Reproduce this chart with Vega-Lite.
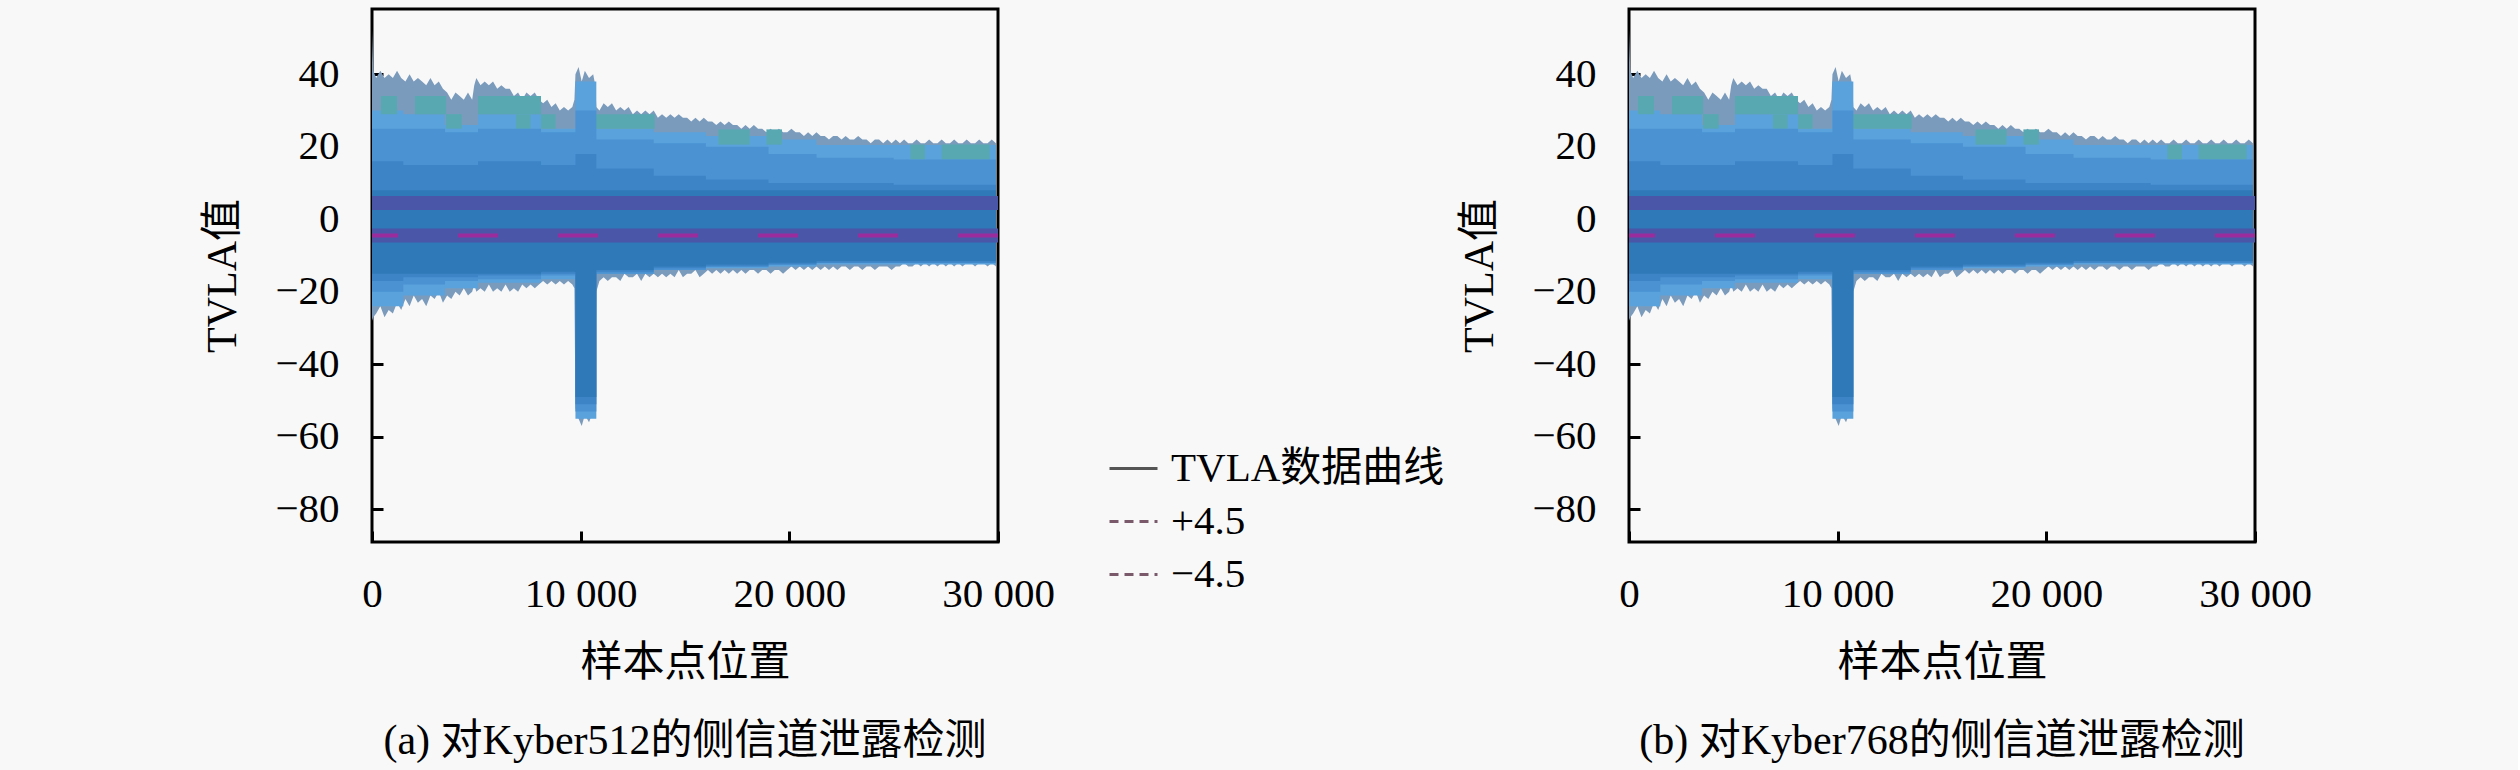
{
  "$schema": "https://vega.github.io/schema/vega-lite/v6.json",
  "background": "#f8f8f8",
  "padding": {"left": 200, "top": 7, "right": 205, "bottom": 10},
  "bounds": "flush",
  "spacing": 631,
  "config": {
    "font": "Liberation Serif, Noto Sans CJK SC",
    "view": {"stroke": "black", "strokeWidth": 3},
    "axis": {
      "domain": false, "grid": false, "ticks": true,
      "tickSize": -11, "tickWidth": 3, "tickColor": "black",
      "labelFont": "Liberation Serif", "labelFontSize": 41, "labelColor": "black",
      "labelFlush": false, "labelOverlap": false, "labelBound": false,
      "titleFont": "Liberation Serif, Noto Sans CJK SC", "titleFontSize": 42,
      "titleFontWeight": "normal", "titleColor": "black"
    },
    "axisX": {"labelPadding": 43, "titlePadding": 28},
    "axisY": {"labelPadding": 44, "titlePadding": 30},
    "title": {"font": "Liberation Serif, Noto Sans CJK SC", "fontSize": 42, "fontWeight": "normal", "color": "black", "orient": "bottom", "offset": 38},
    "legend": {
      "labelFont": "Liberation Serif, Noto Sans CJK SC", "labelFontSize": 41, "labelColor": "black", "labelLimit": 0,
      "symbolType": "stroke", "symbolSize": 2304, "symbolStrokeWidth": 3,
      "labelOffset": 12, "rowPadding": 7
    }
  },
  "datasets": {
    "trace": [
      {"x": 0, "hi": 52, "lo": -28}, {"x": 60, "hi": 41, "lo": -27}, {"x": 200, "hi": 39, "lo": -26},
      {"x": 400, "hi": 41, "lo": -24}, {"x": 600, "hi": 39, "lo": -27}, {"x": 800, "hi": 40, "lo": -25},
      {"x": 1000, "hi": 39, "lo": -26}, {"x": 1200, "hi": 41, "lo": -23}, {"x": 1400, "hi": 39, "lo": -25},
      {"x": 1600, "hi": 38, "lo": -22}, {"x": 1800, "hi": 40, "lo": -24}, {"x": 2000, "hi": 38, "lo": -21},
      {"x": 2200, "hi": 39, "lo": -23}, {"x": 2400, "hi": 38, "lo": -22}, {"x": 2600, "hi": 37, "lo": -24},
      {"x": 2800, "hi": 39, "lo": -21}, {"x": 3000, "hi": 37, "lo": -22}, {"x": 3200, "hi": 38, "lo": -20},
      {"x": 3400, "hi": 36, "lo": -23}, {"x": 3600, "hi": 35, "lo": -21}, {"x": 3800, "hi": 33, "lo": -22},
      {"x": 4000, "hi": 35, "lo": -20}, {"x": 4200, "hi": 34, "lo": -21}, {"x": 4400, "hi": 33, "lo": -19},
      {"x": 4600, "hi": 35, "lo": -21}, {"x": 4800, "hi": 33, "lo": -20}, {"x": 4900, "hi": 37, "lo": -18},
      {"x": 5000, "hi": 39, "lo": -20}, {"x": 5200, "hi": 37, "lo": -19}, {"x": 5400, "hi": 38, "lo": -20},
      {"x": 5600, "hi": 37, "lo": -18}, {"x": 5800, "hi": 38, "lo": -20}, {"x": 6000, "hi": 36, "lo": -19},
      {"x": 6200, "hi": 37, "lo": -20}, {"x": 6400, "hi": 36, "lo": -18}, {"x": 6600, "hi": 36, "lo": -20},
      {"x": 6800, "hi": 34, "lo": -19}, {"x": 7000, "hi": 35, "lo": -20}, {"x": 7200, "hi": 33, "lo": -18},
      {"x": 7400, "hi": 35, "lo": -19}, {"x": 7600, "hi": 34, "lo": -18}, {"x": 7800, "hi": 35, "lo": -19},
      {"x": 8000, "hi": 33, "lo": -18}, {"x": 8200, "hi": 32, "lo": -17}, {"x": 8400, "hi": 33, "lo": -18},
      {"x": 8600, "hi": 31, "lo": -17}, {"x": 8800, "hi": 32, "lo": -18}, {"x": 9000, "hi": 30, "lo": -17},
      {"x": 9200, "hi": 31, "lo": -18}, {"x": 9400, "hi": 30, "lo": -17}, {"x": 9600, "hi": 31, "lo": -18},
      {"x": 9700, "hi": 33, "lo": -19}, {"x": 9750, "hi": 40, "lo": -52}, {"x": 9900, "hi": 42, "lo": -55},
      {"x": 10050, "hi": 38, "lo": -57}, {"x": 10200, "hi": 41, "lo": -54}, {"x": 10400, "hi": 39, "lo": -56},
      {"x": 10600, "hi": 40, "lo": -53}, {"x": 10700, "hi": 37, "lo": -50}, {"x": 10750, "hi": 31, "lo": -20},
      {"x": 10900, "hi": 30, "lo": -17}, {"x": 11100, "hi": 32, "lo": -16}, {"x": 11300, "hi": 31, "lo": -17},
      {"x": 11500, "hi": 32, "lo": -16}, {"x": 11700, "hi": 30, "lo": -16}, {"x": 11900, "hi": 31, "lo": -17},
      {"x": 12100, "hi": 30, "lo": -15}, {"x": 12300, "hi": 31, "lo": -16}, {"x": 12500, "hi": 29, "lo": -16},
      {"x": 12700, "hi": 30, "lo": -15}, {"x": 12900, "hi": 29, "lo": -17}, {"x": 13100, "hi": 30, "lo": -15},
      {"x": 13300, "hi": 29, "lo": -16}, {"x": 13500, "hi": 30, "lo": -15}, {"x": 13700, "hi": 28, "lo": -16},
      {"x": 13900, "hi": 29, "lo": -15}, {"x": 14100, "hi": 28, "lo": -16}, {"x": 14300, "hi": 29, "lo": -15},
      {"x": 14500, "hi": 28, "lo": -16}, {"x": 14700, "hi": 29, "lo": -14}, {"x": 14900, "hi": 28, "lo": -16},
      {"x": 15100, "hi": 28, "lo": -15}, {"x": 15300, "hi": 27, "lo": -15}, {"x": 15500, "hi": 28, "lo": -14},
      {"x": 15700, "hi": 27, "lo": -16}, {"x": 15900, "hi": 28, "lo": -15}, {"x": 16100, "hi": 27, "lo": -14},
      {"x": 16300, "hi": 27, "lo": -15}, {"x": 16500, "hi": 26, "lo": -14}, {"x": 16700, "hi": 27, "lo": -15},
      {"x": 16900, "hi": 26, "lo": -14}, {"x": 17100, "hi": 27, "lo": -15}, {"x": 17300, "hi": 26, "lo": -14},
      {"x": 17500, "hi": 26, "lo": -15}, {"x": 17700, "hi": 25, "lo": -14}, {"x": 17900, "hi": 26, "lo": -15},
      {"x": 18100, "hi": 25, "lo": -14}, {"x": 18300, "hi": 26, "lo": -14}, {"x": 18500, "hi": 25, "lo": -15},
      {"x": 18700, "hi": 25, "lo": -14}, {"x": 18900, "hi": 24, "lo": -14}, {"x": 19100, "hi": 25, "lo": -15},
      {"x": 19300, "hi": 24, "lo": -14}, {"x": 19500, "hi": 25, "lo": -14}, {"x": 19700, "hi": 24, "lo": -15},
      {"x": 19900, "hi": 24, "lo": -14}, {"x": 20100, "hi": 25, "lo": -13}, {"x": 20300, "hi": 24, "lo": -14},
      {"x": 20500, "hi": 24, "lo": -13}, {"x": 20700, "hi": 23, "lo": -14}, {"x": 20900, "hi": 24, "lo": -13},
      {"x": 21100, "hi": 23, "lo": -14}, {"x": 21300, "hi": 24, "lo": -13}, {"x": 21500, "hi": 23, "lo": -14},
      {"x": 21700, "hi": 23, "lo": -13}, {"x": 21900, "hi": 22, "lo": -14}, {"x": 22100, "hi": 23, "lo": -13},
      {"x": 22300, "hi": 23, "lo": -14}, {"x": 22500, "hi": 22, "lo": -13}, {"x": 22700, "hi": 23, "lo": -13},
      {"x": 22900, "hi": 22, "lo": -14}, {"x": 23100, "hi": 22, "lo": -13}, {"x": 23300, "hi": 23, "lo": -13},
      {"x": 23500, "hi": 22, "lo": -14}, {"x": 23700, "hi": 22, "lo": -13}, {"x": 23900, "hi": 21, "lo": -13},
      {"x": 24100, "hi": 22, "lo": -14}, {"x": 24300, "hi": 22, "lo": -13}, {"x": 24500, "hi": 21, "lo": -13},
      {"x": 24700, "hi": 22, "lo": -13}, {"x": 24900, "hi": 21, "lo": -14}, {"x": 25100, "hi": 22, "lo": -13},
      {"x": 25300, "hi": 21, "lo": -13}, {"x": 25500, "hi": 22, "lo": -12}, {"x": 25700, "hi": 21, "lo": -13},
      {"x": 25900, "hi": 21, "lo": -13}, {"x": 26100, "hi": 22, "lo": -12}, {"x": 26300, "hi": 21, "lo": -13},
      {"x": 26500, "hi": 21, "lo": -12}, {"x": 26700, "hi": 22, "lo": -13}, {"x": 26900, "hi": 21, "lo": -12},
      {"x": 27100, "hi": 21, "lo": -13}, {"x": 27300, "hi": 22, "lo": -12}, {"x": 27500, "hi": 21, "lo": -13},
      {"x": 27700, "hi": 21, "lo": -12}, {"x": 27900, "hi": 22, "lo": -13}, {"x": 28100, "hi": 21, "lo": -12},
      {"x": 28300, "hi": 21, "lo": -13}, {"x": 28500, "hi": 22, "lo": -12}, {"x": 28700, "hi": 21, "lo": -12},
      {"x": 28900, "hi": 21, "lo": -13}, {"x": 29100, "hi": 22, "lo": -12}, {"x": 29300, "hi": 21, "lo": -12},
      {"x": 29500, "hi": 21, "lo": -13}, {"x": 29700, "hi": 22, "lo": -12}, {"x": 29900, "hi": 21, "lo": -13}
    ],
    "teal": [
      {"x": 430, "xe": 1200, "t": 34, "b": 29}, {"x": 2060, "xe": 3550, "t": 34, "b": 29},
      {"x": 3550, "xe": 4300, "t": 29, "b": 25}, {"x": 5080, "xe": 8100, "t": 34, "b": 29},
      {"x": 6900, "xe": 7600, "t": 29, "b": 25}, {"x": 8100, "xe": 8800, "t": 29, "b": 25},
      {"x": 10450, "xe": 13550, "t": 29, "b": 25}, {"x": 16600, "xe": 18100, "t": 24.8, "b": 20.6},
      {"x": 18900, "xe": 19650, "t": 24.8, "b": 20.6}, {"x": 25800, "xe": 26500, "t": 20.6, "b": 16.5},
      {"x": 27300, "xe": 29600, "t": 20.6, "b": 16.5}
    ],
    "bands": [
      {"x": 0, "h1": 30, "l1": -24, "h2": 25, "l2": -20, "h3": 16, "l3": -17, "h4": 8, "l4": -15},
      {"x": 1500, "h1": 29, "l1": -21, "h2": 25, "l2": -18, "h3": 15, "l3": -16, "h4": 8, "l4": -15},
      {"x": 3500, "h1": 26, "l1": -19, "h2": 24, "l2": -17, "h3": 15, "l3": -16, "h4": 8, "l4": -15},
      {"x": 5080, "h1": 29, "l1": -17.5, "h2": 25, "l2": -16.5, "h3": 16, "l3": -15.5, "h4": 8, "l4": -15},
      {"x": 8100, "h1": 25, "l1": -16.5, "h2": 24, "l2": -15.5, "h3": 15, "l3": -15, "h4": 8, "l4": -14.5},
      {"x": 9750, "h1": 38, "l1": -55, "h2": 30, "l2": -53, "h3": 18, "l3": -51, "h4": 8, "l4": -49},
      {"x": 10750, "h1": 25, "l1": -15, "h2": 22, "l2": -15, "h3": 14, "l3": -14.5, "h4": 8, "l4": -14},
      {"x": 13500, "h1": 24, "l1": -14, "h2": 21, "l2": -14, "h3": 12, "l3": -13.5, "h4": 8, "l4": -13},
      {"x": 16000, "h1": 23, "l1": -13.5, "h2": 20, "l2": -13, "h3": 11, "l3": -13, "h4": 8, "l4": -12.5},
      {"x": 19000, "h1": 22, "l1": -13, "h2": 18, "l2": -12.5, "h3": 10, "l3": -12.5, "h4": 8, "l4": -12},
      {"x": 21300, "h1": 20.5, "l1": -12.5, "h2": 17, "l2": -12, "h3": 10, "l3": -12, "h4": 8, "l4": -11.5},
      {"x": 25000, "h1": 20.5, "l1": -12.5, "h2": 16.5, "l2": -12, "h3": 9.5, "l3": -12, "h4": 8, "l4": -11.5},
      {"x": 29900, "h1": 20.5, "l1": -12.5, "h2": 16.5, "l2": -12, "h3": 9.5, "l3": -12, "h4": 8, "l4": -11.5}
    ],
    "thr": [
      {"series": "+4.5", "v": 4.5},
      {"series": "−4.5", "v": -4.5}
    ]
  },
  "hconcat": [
    {
      "width": 626,
      "height": 533,
      "title": "(a) 对Kyber512的侧信道泄露检测",
      "layer": [
        {
          "encoding": {
            "x": {"field": "x", "type": "quantitative", "title": "样本点位置",
              "scale": {"domain": [0, 30000], "nice": false, "zero": false},
              "axis": {"values": [0, 10000, 20000, 30000], "labelExpr": "replace(format(datum.value, ','), ',', ' ')"}}
          },
          "layer": [
            {"data": {"name": "trace"}, "mark": {"type": "area", "color": "#7b9bbd"},
              "encoding": {"y": {"field": "hi", "type": "quantitative", "title": "TVLA值", "scale": {"domain": [-89, 58], "nice": false}, "axis": {"values": [-80, -60, -40, -20, 0, 20, 40]}}, "y2": {"field": "lo"}}},
            {"data": {"name": "bands"}, "mark": {"type": "area", "color": "#5aa2dc", "interpolate": "step-after"},
              "encoding": {"y": {"field": "h1", "type": "quantitative", "title": "TVLA值", "scale": {"domain": [-89, 58], "nice": false}, "axis": {"values": [-80, -60, -40, -20, 0, 20, 40]}}, "y2": {"field": "l1"}}},
            {"data": {"name": "teal"}, "mark": {"type": "rect", "color": "#58a8b2"},
              "encoding": {"x2": {"field": "xe"}, "y": {"field": "t", "type": "quantitative", "title": "TVLA值", "scale": {"domain": [-89, 58], "nice": false}, "axis": {"values": [-80, -60, -40, -20, 0, 20, 40]}}, "y2": {"field": "b"}}},
            {"data": {"name": "bands"}, "mark": {"type": "area", "color": "#4a92d2", "interpolate": "step-after"},
              "encoding": {"y": {"field": "h2", "type": "quantitative", "title": "TVLA值", "scale": {"domain": [-89, 58], "nice": false}, "axis": {"values": [-80, -60, -40, -20, 0, 20, 40]}}, "y2": {"field": "l2"}}},
            {"data": {"name": "bands"}, "mark": {"type": "area", "color": "#3c84c5", "interpolate": "step-after"},
              "encoding": {"y": {"field": "h3", "type": "quantitative", "title": "TVLA值", "scale": {"domain": [-89, 58], "nice": false}, "axis": {"values": [-80, -60, -40, -20, 0, 20, 40]}}, "y2": {"field": "l3"}}},
            {"data": {"name": "bands"}, "mark": {"type": "area", "color": "#2f79b8", "interpolate": "step-after"},
              "encoding": {"y": {"field": "h4", "type": "quantitative", "title": "TVLA值", "scale": {"domain": [-89, 58], "nice": false}, "axis": {"values": [-80, -60, -40, -20, 0, 20, 40]}}, "y2": {"field": "l4"}}}
          ]
        },
        {"data": {"name": "thr"}, "mark": {"type": "rule", "color": "#4a57a8", "strokeWidth": 14},
          "encoding": {"y": {"field": "v", "type": "quantitative", "title": "TVLA值", "scale": {"domain": [-89, 58], "nice": false}, "axis": {"values": [-80, -60, -40, -20, 0, 20, 40]}}}},
        {"data": {"name": "thr"}, "transform": [{"filter": "datum.v < 0"}],
          "mark": {"type": "rule", "color": "#9a2c9e", "strokeWidth": 4, "strokeDash": [40, 60]},
          "encoding": {"y": {"field": "v", "type": "quantitative", "title": "TVLA值", "scale": {"domain": [-89, 58], "nice": false}, "axis": {"values": [-80, -60, -40, -20, 0, 20, 40]}}}},
        {"data": {"name": "thr"}, "mark": {"type": "rule", "opacity": 0},
          "encoding": {
            "y": {"field": "v", "type": "quantitative", "title": "TVLA值", "scale": {"domain": [-89, 58], "nice": false}, "axis": {"values": [-80, -60, -40, -20, 0, 20, 40]}},
            "color": {"field": "series", "type": "nominal",
              "scale": {"domain": ["TVLA数据曲线", "+4.5", "−4.5"], "range": ["#555555", "#7a5a6a", "#7a5a6a"]},
              "legend": {"title": null, "orient": "none", "legendX": 736, "legendY": 434, "symbolOpacity": 1}},
            "strokeDash": {"field": "series", "type": "nominal",
              "scale": {"domain": ["TVLA数据曲线", "+4.5", "−4.5"], "range": [[1, 0], [9, 6], [9, 6]]},
              "legend": {"title": null, "orient": "none", "legendX": 736, "legendY": 434, "symbolOpacity": 1}}
          }}
      ]
    },
    {
      "width": 626,
      "height": 533,
      "title": "(b) 对Kyber768的侧信道泄露检测",
      "layer": [
        {
          "encoding": {
            "x": {"field": "x", "type": "quantitative", "title": "样本点位置",
              "scale": {"domain": [0, 30000], "nice": false, "zero": false},
              "axis": {"values": [0, 10000, 20000, 30000], "labelExpr": "replace(format(datum.value, ','), ',', ' ')"}}
          },
          "layer": [
            {"data": {"name": "trace"}, "mark": {"type": "area", "color": "#7b9bbd"},
              "encoding": {"y": {"field": "hi", "type": "quantitative", "title": "TVLA值", "scale": {"domain": [-89, 58], "nice": false}, "axis": {"values": [-80, -60, -40, -20, 0, 20, 40]}}, "y2": {"field": "lo"}}},
            {"data": {"name": "bands"}, "mark": {"type": "area", "color": "#5aa2dc", "interpolate": "step-after"},
              "encoding": {"y": {"field": "h1", "type": "quantitative", "title": "TVLA值", "scale": {"domain": [-89, 58], "nice": false}, "axis": {"values": [-80, -60, -40, -20, 0, 20, 40]}}, "y2": {"field": "l1"}}},
            {"data": {"name": "teal"}, "mark": {"type": "rect", "color": "#58a8b2"},
              "encoding": {"x2": {"field": "xe"}, "y": {"field": "t", "type": "quantitative", "title": "TVLA值", "scale": {"domain": [-89, 58], "nice": false}, "axis": {"values": [-80, -60, -40, -20, 0, 20, 40]}}, "y2": {"field": "b"}}},
            {"data": {"name": "bands"}, "mark": {"type": "area", "color": "#4a92d2", "interpolate": "step-after"},
              "encoding": {"y": {"field": "h2", "type": "quantitative", "title": "TVLA值", "scale": {"domain": [-89, 58], "nice": false}, "axis": {"values": [-80, -60, -40, -20, 0, 20, 40]}}, "y2": {"field": "l2"}}},
            {"data": {"name": "bands"}, "mark": {"type": "area", "color": "#3c84c5", "interpolate": "step-after"},
              "encoding": {"y": {"field": "h3", "type": "quantitative", "title": "TVLA值", "scale": {"domain": [-89, 58], "nice": false}, "axis": {"values": [-80, -60, -40, -20, 0, 20, 40]}}, "y2": {"field": "l3"}}},
            {"data": {"name": "bands"}, "mark": {"type": "area", "color": "#2f79b8", "interpolate": "step-after"},
              "encoding": {"y": {"field": "h4", "type": "quantitative", "title": "TVLA值", "scale": {"domain": [-89, 58], "nice": false}, "axis": {"values": [-80, -60, -40, -20, 0, 20, 40]}}, "y2": {"field": "l4"}}}
          ]
        },
        {"data": {"name": "thr"}, "mark": {"type": "rule", "color": "#4a57a8", "strokeWidth": 14},
          "encoding": {"y": {"field": "v", "type": "quantitative", "title": "TVLA值", "scale": {"domain": [-89, 58], "nice": false}, "axis": {"values": [-80, -60, -40, -20, 0, 20, 40]}}}},
        {"data": {"name": "thr"}, "transform": [{"filter": "datum.v < 0"}],
          "mark": {"type": "rule", "color": "#9a2c9e", "strokeWidth": 4, "strokeDash": [40, 60]},
          "encoding": {"y": {"field": "v", "type": "quantitative", "title": "TVLA值", "scale": {"domain": [-89, 58], "nice": false}, "axis": {"values": [-80, -60, -40, -20, 0, 20, 40]}}}}
      ]
    }
  ]
}
